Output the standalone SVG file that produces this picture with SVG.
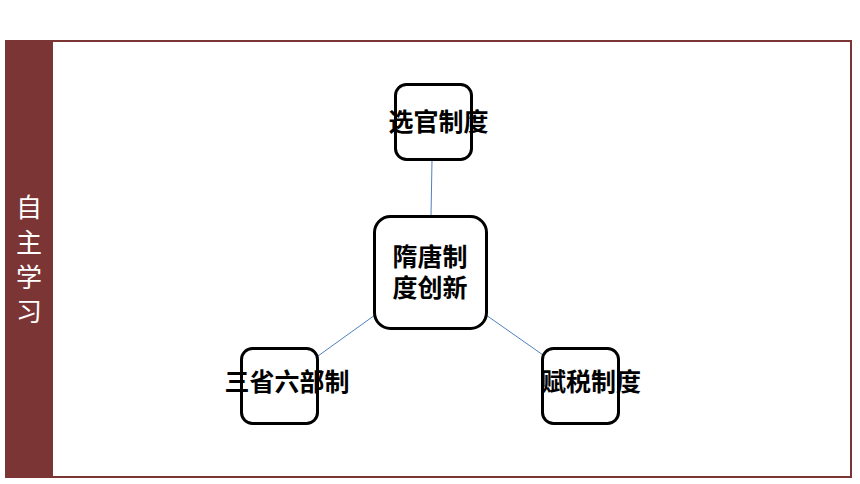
<svg xmlns="http://www.w3.org/2000/svg" width="860" height="484" viewBox="0 0 860 484">
<style>
.box{fill:#fff;stroke:#000;stroke-width:3}
.lbl{font-family:"Noto Sans CJK SC","Noto Sans",sans-serif;font-size:25px;font-weight:700;fill:#000;text-anchor:middle}
.side{font-family:"Noto Sans CJK SC","Noto Sans",sans-serif;font-size:26px;fill:#fff;text-anchor:middle}
.conn{stroke:#4f81bd;stroke-width:1;fill:none}
</style>
<rect x="0" y="0" width="860" height="484" fill="#fff"/>
<g id="frame">
<rect x="6" y="41" width="845" height="436" fill="#fff" stroke="#7b3535" stroke-width="2"/>
<rect x="5" y="40" width="48" height="438" fill="#7b3535"/>
<text class="side" x="29" y="217">自</text>
<text class="side" x="29" y="252">主</text>
<text class="side" x="29" y="287">学</text>
<text class="side" x="29" y="321">习</text>
</g>
<g id="connectors">
<line class="conn" x1="432" y1="160" x2="431" y2="216"/>
<line class="conn" x1="375" y1="315" x2="318" y2="356"/>
<line class="conn" x1="486" y1="315" x2="543" y2="355"/>
</g>
<g id="node-xuanguan">
<rect class="box" x="395.5" y="84.5" width="76" height="75" rx="11"/>
<text class="lbl" x="438.5" y="131">选官制度</text>
</g>
<g id="node-center">
<rect class="box" x="374.5" y="216.5" width="112" height="112" rx="16"/>
<text class="lbl" x="430" y="266"><tspan x="430" y="266">隋唐制</tspan><tspan x="430" y="297">度创新</tspan></text>
</g>
<g id="node-sansheng">
<rect class="box" x="241.5" y="348.5" width="76" height="75" rx="11"/>
<text class="lbl" x="287" y="391">三省六部制</text>
</g>
<g id="node-fushui">
<rect class="box" x="542.5" y="348.5" width="76" height="75" rx="11"/>
<text class="lbl" x="591" y="391">赋税制度</text>
</g>
</svg>
